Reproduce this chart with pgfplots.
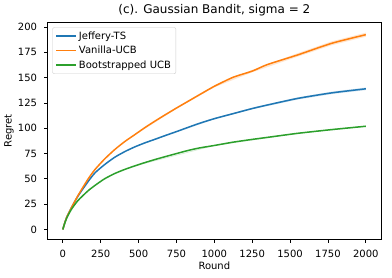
\documentclass[border=0pt]{standalone}
\usepackage{pgfplots}
\pgfplotsset{compat=1.18}
\usepackage{fontspec}
\setmainfont{DejaVu Sans}
\definecolor{tabblue}{HTML}{1F77B4}
\definecolor{taborange}{HTML}{FF7F0E}
\definecolor{tabgreen}{HTML}{2CA02C}
\begin{document}
\begin{tikzpicture}
\begin{axis}[
  name=ax,
  scale only axis,
  width=333.3pt, height=217pt,
  xmin=-100, xmax=2100,
  ymin=-9.75, ymax=204.75,
  xtick={0,250,...,2000},
  ytick={0,25,...,200},
  tick align=outside,
  major tick length=3.5pt,
  tick style={black, line width=0.8pt},
  axis line style={line width=0.8pt},
  xtick pos=bottom, ytick pos=left,
  /pgf/number format/assume math mode=true,
  /pgf/number format/1000 sep={},
  tick label style={font=\fontsize{10}{12}\selectfont},
  xticklabel style={inner sep=0pt, yshift=-7pt},
  yticklabel style={inner sep=0pt, xshift=-7pt},
  xlabel={Round}, ylabel={Regret},
  label style={font=\fontsize{10}{12}\selectfont},
  xlabel style={inner sep=0pt, yshift=-4pt},
  ylabel style={inner sep=0pt, yshift=4pt},
  title={(c). Gaussian Bandit, sigma = 2},
  every axis title shift=0pt,
  title style={font=\fontsize{12}{14}\selectfont, inner sep=0pt, anchor=south, at={(0.5,1)}, yshift=6pt},
  legend style={at={(0,1)}, anchor=north west, xshift=4.6pt, yshift=-5pt,
    draw=black!20, rounded corners=2pt, fill=white, fill opacity=0.8, text opacity=1,
    font=\fontsize{10}{12}\selectfont, inner xsep=3pt, inner ysep=2pt,
    row sep=1.5pt, cells={anchor=west}},
  legend image code/.code={\draw[#1] (0pt,0pt) -- (20pt,0pt);},
]
% shaded bands
\addplot[draw=none, fill=taborange, fill opacity=0.2, forget plot] coordinates {
(475,94.3) (750,120.8) (1000,142.5) (1250,157.7) (1550,174.2) (1775,185.9) (2000,194.5)
(2000,190.5) (1775,182.1) (1550,170.8) (1250,155.3) (1000,140.5) (750,119.2) (475,93.1)};
\addplot[draw=none, fill=tabblue, fill opacity=0.2, forget plot] coordinates {
(475,82) (750,97.3) (1000,110.2) (1250,120.3) (1550,130.6) (1775,136.2) (2000,140.3)
(2000,137.7) (1775,133.8) (1550,128.4) (1250,118.7) (1000,108.8) (750,96.1) (475,81.2)};
\addplot[draw=none, fill=tabgreen, fill opacity=0.2, forget plot] coordinates {
(475,63.1) (1000,83.4) (1550,95.5) (2000,102.6)
(2000,101.4) (1550,94.5) (1000,82.6) (475,62.5)};
\addplot[tabblue, line width=1.5pt, smooth, tension=0.4] coordinates {
(0,0) (10,5.3) (25,11.8) (55,21) (100,33) (165,47) (212,55.9) (275,64) (343,71.4)
(410,77) (475,81.6) (540,85.5) (606,89) (672,92.6) (750,96.7) (825,100.8) (900,104.8)
(1000,109.5) (1125,114.5) (1250,119.5) (1350,123) (1550,129.5) (1775,135) (2000,139)};
\addlegendentry{Jeffery-TS}
\addplot[taborange, line width=1.5pt, smooth, tension=0.4] coordinates {
(0,0) (10,5.3) (25,11.8) (55,21) (100,33.5) (165,49.5) (212,59.2) (275,69.5) (343,79)
(410,87) (475,93.7) (540,100.5) (606,106.9) (672,113) (750,120) (825,126.5) (900,133)
(1000,141.5) (1125,150.5) (1250,156.5) (1350,163) (1550,172.5) (1775,184) (2000,192.5)};
\addlegendentry{Vanilla-UCB}
\addplot[tabgreen, line width=1.5pt, smooth, tension=0.4] coordinates {
(0,0) (10,5) (25,11) (55,19.5) (100,28.6) (165,38) (212,43.5) (275,50) (343,55.3)
(410,59.4) (475,62.8) (540,66) (606,69) (672,71.8) (750,75) (825,78) (900,80.5)
(1000,83) (1125,86.3) (1250,89) (1350,91) (1550,95) (1775,98.7) (2000,102)};
\addlegendentry{Bootstrapped UCB}
\end{axis}
\pgfresetboundingbox
\path ([shift={(-47.7pt,-38.7pt)}]ax.south west) rectangle ([shift={(11pt,22.3pt)}]ax.north east);
\end{tikzpicture}
\end{document}
